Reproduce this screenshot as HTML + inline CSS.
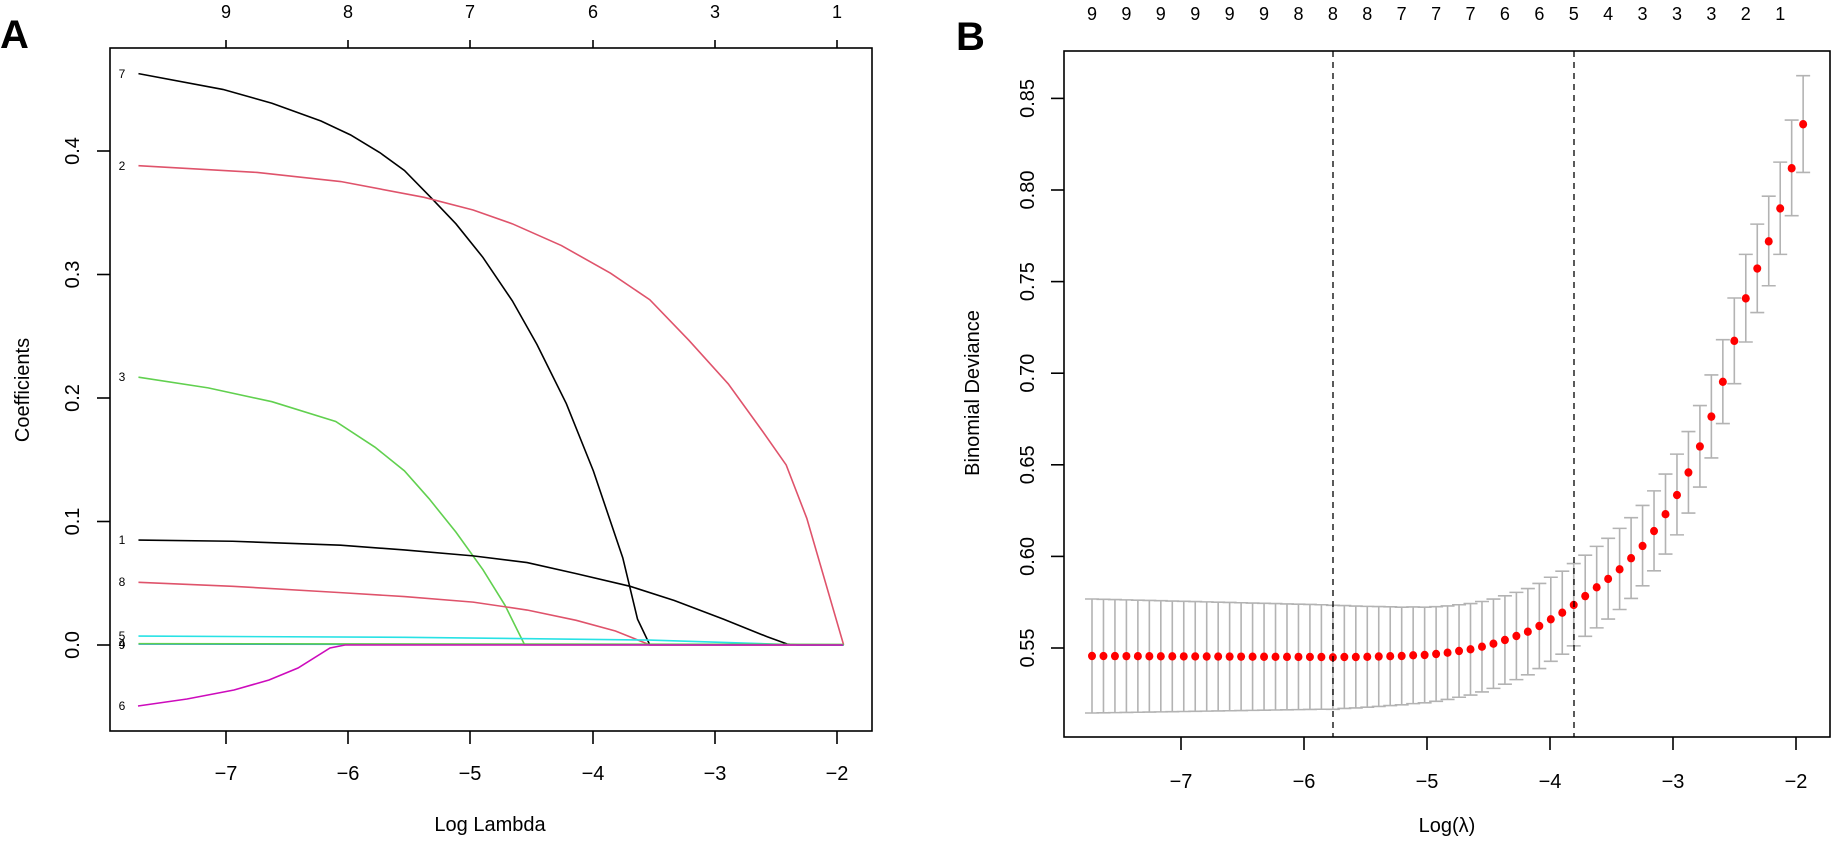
<!DOCTYPE html>
<html><head><meta charset="utf-8"><style>
html,body{margin:0;padding:0;background:#fff;}
svg{display:block;font-family:"Liberation Sans",Arial,sans-serif;}
</style></head><body>
<svg id="s" width="1834" height="841" viewBox="0 0 1834 841" xmlns="http://www.w3.org/2000/svg">
<rect width="1834" height="841" fill="#fff"/>
<!-- Panel A -->
<text x="0" y="48" font-size="40" font-weight="bold">A</text>
<g fill="none" stroke-width="1.6" transform="translate(110,40) scale(0.4907,0.3953)">
<path vector-effect="non-scaling-stroke" stroke="#000" d="M58,85 L230,125 L330,160 L430,205 L490,240 L550,285 L600,330 L655,400 L705,465 L760,550 L820,660 L870,770 L930,920 L985,1090 L1045,1310 L1075,1465 L1100,1530 L1495,1530"/>
<path vector-effect="non-scaling-stroke" stroke="#DF536B" d="M58,318 L300,335 L470,358 L640,398 L740,430 L820,465 L920,520 L1020,590 L1100,657 L1180,760 L1260,870 L1330,990 L1378,1075 L1420,1210 L1495,1530"/>
<path vector-effect="non-scaling-stroke" stroke="#61D04F" d="M58,853 L200,880 L330,915 L460,965 L540,1030 L600,1090 L650,1160 L705,1245 L760,1340 L805,1430 L845,1530 L1495,1530"/>
<path vector-effect="non-scaling-stroke" stroke="#000" d="M58,1265 L250,1268 L470,1278 L600,1290 L740,1305 L850,1322 L950,1350 L1060,1382 L1150,1418 L1250,1465 L1340,1510 L1380,1528 L1400,1530 L1495,1530"/>
<path vector-effect="non-scaling-stroke" stroke="#DF536B" d="M58,1372 L250,1382 L470,1398 L600,1408 L740,1422 L850,1442 L950,1468 L1030,1495 L1100,1530 L1495,1530"/>
<path vector-effect="non-scaling-stroke" stroke="#28E2E5" d="M58,1508 L600,1511 L1100,1518 L1400,1530 L1495,1530"/>
<path vector-effect="non-scaling-stroke" stroke="#2297E6" d="M58,1528 L1495,1530"/>
<path vector-effect="non-scaling-stroke" stroke="#61D04F" d="M58,1527 L1495,1529"/>
</g>
<path fill="none" stroke="#CD0BBC" stroke-width="1.6" d="M138,706 L187,699 L234,690 L269,680 L298,668 L330,648 L345,645 L843,645"/>
<g font-size="12" font-family="'Liberation Sans',sans-serif" fill="#000" text-anchor="middle">
<text x="122" y="78">7</text><text x="122" y="170">2</text><text x="122" y="381">3</text>
<text x="122" y="544">1</text><text x="122" y="586">8</text><text x="122" y="640">5</text>
<text x="122" y="648">4</text><text x="122" y="649">9</text><text x="122" y="710">6</text>
</g>
<rect x="110" y="48" width="762" height="683" fill="none" stroke="#000" stroke-width="1.6"/>
<g stroke="#000" stroke-width="1.6">
<line x1="226" y1="731" x2="226" y2="744"/><line x1="348" y1="731" x2="348" y2="744"/><line x1="470" y1="731" x2="470" y2="744"/><line x1="593" y1="731" x2="593" y2="744"/><line x1="715" y1="731" x2="715" y2="744"/><line x1="837" y1="731" x2="837" y2="744"/>
<line x1="226" y1="48" x2="226" y2="40"/><line x1="348" y1="48" x2="348" y2="40"/><line x1="470" y1="48" x2="470" y2="40"/><line x1="593" y1="48" x2="593" y2="40"/><line x1="715" y1="48" x2="715" y2="40"/><line x1="837" y1="48" x2="837" y2="40"/>
<line x1="97" y1="645" x2="110" y2="645"/><line x1="97" y1="521.5" x2="110" y2="521.5"/><line x1="97" y1="398" x2="110" y2="398"/><line x1="97" y1="274.5" x2="110" y2="274.5"/><line x1="97" y1="151" x2="110" y2="151"/>
</g>
<g font-size="20" text-anchor="middle">
<text x="226" y="780">−7</text><text x="348" y="780">−6</text><text x="470" y="780">−5</text><text x="593" y="780">−4</text><text x="715" y="780">−3</text><text x="837" y="780">−2</text>
<text x="490" y="831">Log Lambda</text>
<text x="226" y="18" font-size="18">9</text><text x="348" y="18" font-size="18">8</text><text x="470" y="18" font-size="18">7</text><text x="593" y="18" font-size="18">6</text><text x="715" y="18" font-size="18">3</text><text x="837" y="18" font-size="18">1</text>
<text transform="translate(79,645) rotate(-90)">0.0</text>
<text transform="translate(79,521.5) rotate(-90)">0.1</text>
<text transform="translate(79,398) rotate(-90)">0.2</text>
<text transform="translate(79,274.5) rotate(-90)">0.3</text>
<text transform="translate(79,151) rotate(-90)">0.4</text>
<text transform="translate(29,390) rotate(-90)">Coefficients</text>
</g>
<!-- Panel B -->
<text x="956" y="50" font-size="40" font-weight="bold">B</text>
<g id="bars" stroke="#b3b3b3" stroke-width="1.6" fill="none"></g>
<g id="dots" fill="#ff0000"></g>
<g stroke="#000" stroke-width="1.3" stroke-dasharray="6,5">
<line x1="1333" y1="51" x2="1333" y2="737"/><line x1="1574" y1="51" x2="1574" y2="737"/>
</g>
<rect x="1064" y="51" width="766" height="686" fill="none" stroke="#000" stroke-width="1.6"/>
<g stroke="#000" stroke-width="1.6">
<line x1="1181" y1="737" x2="1181" y2="750"/><line x1="1304" y1="737" x2="1304" y2="750"/><line x1="1427" y1="737" x2="1427" y2="750"/><line x1="1550" y1="737" x2="1550" y2="750"/><line x1="1673" y1="737" x2="1673" y2="750"/><line x1="1796" y1="737" x2="1796" y2="750"/>
<line x1="1051" y1="648" x2="1064" y2="648"/><line x1="1051" y1="556.4" x2="1064" y2="556.4"/><line x1="1051" y1="464.8" x2="1064" y2="464.8"/><line x1="1051" y1="373.2" x2="1064" y2="373.2"/><line x1="1051" y1="281.6" x2="1064" y2="281.6"/><line x1="1051" y1="190" x2="1064" y2="190"/><line x1="1051" y1="98.4" x2="1064" y2="98.4"/>
</g>
<g font-size="20" text-anchor="middle">
<text x="1181" y="788">−7</text><text x="1304" y="788">−6</text><text x="1427" y="788">−5</text><text x="1550" y="788">−4</text><text x="1673" y="788">−3</text><text x="1796" y="788">−2</text>
<text x="1447" y="832">Log(λ)</text>
<text transform="translate(1034,648) rotate(-90)">0.55</text>
<text transform="translate(1034,556.4) rotate(-90)">0.60</text>
<text transform="translate(1034,464.8) rotate(-90)">0.65</text>
<text transform="translate(1034,373.2) rotate(-90)">0.70</text>
<text transform="translate(1034,281.6) rotate(-90)">0.75</text>
<text transform="translate(1034,190) rotate(-90)">0.80</text>
<text transform="translate(1034,98.4) rotate(-90)">0.85</text>
<text transform="translate(979,393) rotate(-90)">Binomial Deviance</text>
</g>
<g id="toplab" font-size="18" text-anchor="middle"></g>
</svg>
<script>
(function(){
var NS="http://www.w3.org/2000/svg";
var y=[],top=[],bot=[];
for(var i=0;i<=20;i++){y.push(656+i*0.05);}
var mid=[657.3,657,657,656.8,656.5,656.2,656,655.3,655,654,652.7,651,649.3,646.7,643.7,640,636,631.7,626,619.3,612.7];
for(var i=0;i<mid.length;i++)y.push(mid[i]);
for(var i=0;i<=41;i++){var se=i<=21?57-5*i/21:52-11*(i-21)/21;top.push(y[i]-se);bot.push(y[i]+se);}
var hi=[[1450,1342,1557],[1427,1320,1532],[1404,1297,1510],[1382,1276,1487],[1357,1250,1462],[1328,1222,1433],[1296,1190,1400],[1257,1152,1361],[1213,1108,1317],[1163,1056,1267],[1104,997,1210],[1036,929,1142],[958,849,1066],[867,757,976],[760,648,872],[649,534,763],[571,455,686],[500,382,616],[414,293,534],[309,183,433],[194,67,320]];
for(var k=0;k<hi.length;k++){y.push(50+hi[k][0]/2.613);top.push(50+hi[k][1]/2.613);bot.push(50+hi[k][2]/2.613);}
var bars=document.getElementById("bars"),dots=document.getElementById("dots");
var d="";
for(var i=0;i<63;i++){var x=1092+i*11.47;
d+="M"+x+","+top[i]+"L"+x+","+bot[i]+"M"+(x-7)+","+top[i]+"L"+(x+7)+","+top[i]+"M"+(x-7)+","+bot[i]+"L"+(x+7)+","+bot[i];
var c=document.createElementNS(NS,"ellipse");c.setAttribute("cx",x);c.setAttribute("cy",y[i]);c.setAttribute("rx",4);c.setAttribute("ry",4.2);dots.appendChild(c);}
var p=document.createElementNS(NS,"path");p.setAttribute("d",d);bars.appendChild(p);
var labs="9 9 9 9 9 9 8 8 8 7 7 7 6 6 5 4 3 3 3 2 1".split(" ");
var tl=document.getElementById("toplab");
for(var k=0;k<labs.length;k++){var t=document.createElementNS(NS,"text");t.setAttribute("x",1092+3*k*11.47);t.setAttribute("y",20);t.textContent=labs[k];tl.appendChild(t);}
})();
</script>
</body></html>
